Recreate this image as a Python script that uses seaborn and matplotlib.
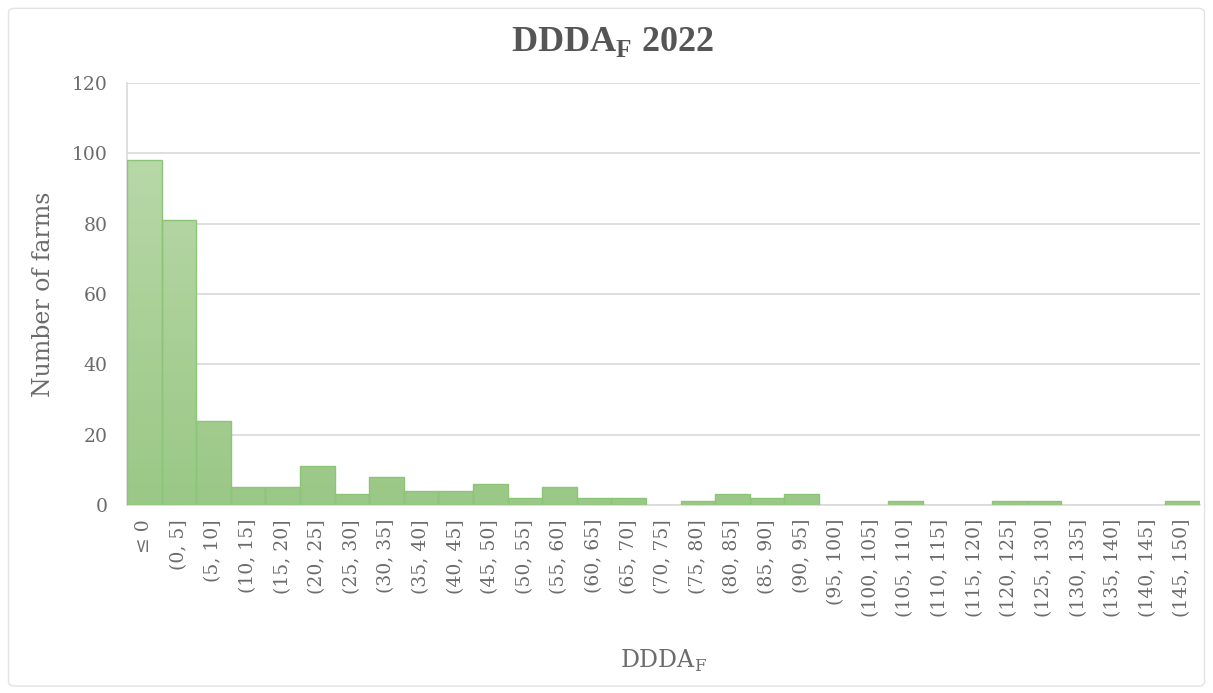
import numpy as np
import pandas as pd
import matplotlib
matplotlib.use("Agg")
import matplotlib.pyplot as plt
from matplotlib.colors import LinearSegmentedColormap
from matplotlib.patches import FancyBboxPatch
import seaborn as sns

# Histogram of DDDA_F per farm, 2022
categories = ["\u2264 0", "(0, 5]", "(5, 10]", "(10, 15]", "(15, 20]", "(20, 25]",
              "(25, 30]", "(30, 35]", "(35, 40]", "(40, 45]", "(45, 50]", "(50, 55]",
              "(55, 60]", "(60, 65]", "(65, 70]", "(70, 75]", "(75, 80]", "(80, 85]",
              "(85, 90]", "(90, 95]", "(95, 100]", "(100, 105]", "(105, 110]",
              "(110, 115]", "(115, 120]", "(120, 125]", "(125, 130]", "(130, 135]",
              "(135, 140]", "(140, 145]", "(145, 150]"]
farms = [98, 81, 24, 5, 5, 11, 3, 8, 4, 4, 6, 2, 5, 2, 2, 0, 1, 3, 2, 3,
         0, 0, 1, 0, 0, 1, 1, 0, 0, 0, 1]
y_ticks = [0, 20, 40, 60, 80, 100, 120]

df = pd.DataFrame({"bin": categories, "farms": farms})

sns.set_theme(style="white")
plt.rcParams["font.family"] = ["DejaVu Serif"]
plt.rcParams["mathtext.fontset"] = "custom"
plt.rcParams["mathtext.rm"] = "DejaVu Serif"
plt.rcParams["mathtext.bf"] = "Liberation Serif:bold"

text_grey = "#6b6b6b"

fig = plt.figure(figsize=(12.13, 6.93), dpi=100)
ax = fig.add_axes([0.1047, 0.2713, 0.8843, 0.6087])

sns.barplot(data=df, x="bin", y="farms", ax=ax, width=1.0, color="#a3cd8f",
            saturation=1, edgecolor="#8cc478", linewidth=1.0, zorder=3)

# vertical gradient fill clipped to each bar
grad = LinearSegmentedColormap.from_list("g", ["#9ac886", "#b8d8a8"])
ramp = np.linspace(0, 1, 256).reshape(-1, 1)
for p in ax.patches:
    h = p.get_height()
    if h <= 0:
        p.set_visible(False)
        continue
    x0 = p.get_x()
    w = p.get_width()
    im = ax.imshow(ramp, cmap=grad, origin="lower", aspect="auto",
                   extent=[x0, x0 + w, 0, 100], zorder=3.5,
                   interpolation="bilinear")
    im.set_clip_path(p)
    p.set_facecolor("none")
    p.set_zorder(4)

ax.set_xlim(-0.5, len(categories) - 0.5)
ax.set_ylim(0, 120)
ax.set_yticks(y_ticks)
ax.yaxis.grid(True, color="#d9d9d9", linewidth=1.2, zorder=0)
ax.xaxis.grid(False)
ax.set_axisbelow(True)

for side in ["top", "right"]:
    ax.spines[side].set_visible(False)
ax.spines["left"].set_color("#d9d9d9")
ax.spines["bottom"].set_color("#d9d9d9")
ax.spines["left"].set_linewidth(1.2)
ax.spines["bottom"].set_linewidth(1.2)

ax.tick_params(axis="both", length=0, colors=text_grey)
ax.tick_params(axis="y", labelsize=13.5, pad=14)
ax.tick_params(axis="x", labelsize=13.5, pad=10)
ax.set_xticks(range(len(categories)))
ax.set_xticklabels(categories, rotation=90, ha="center", va="top")

ax.set_ylabel("Number of farms", fontsize=17, color=text_grey, labelpad=12)
ax.set_xlabel(r"DDDA$_{\mathrm{F}}$", fontsize=17, color=text_grey, labelpad=22)

fig.text(0.505, 0.94, r"DDDA$_{\mathbf{F}}$ 2022", ha="center", va="center",
         fontsize=26, fontweight="bold", color="#555555",
         family="Liberation Serif")

# light outer frame of the chart area
frame = FancyBboxPatch((0.007, 0.01), 0.986, 0.978, boxstyle="round,pad=0,rounding_size=0.006",
                       transform=fig.transFigure, fill=False, edgecolor="#e3e3e3",
                       linewidth=1.0)
fig.patches.append(frame)

fig.savefig("out.png", dpi=100)
